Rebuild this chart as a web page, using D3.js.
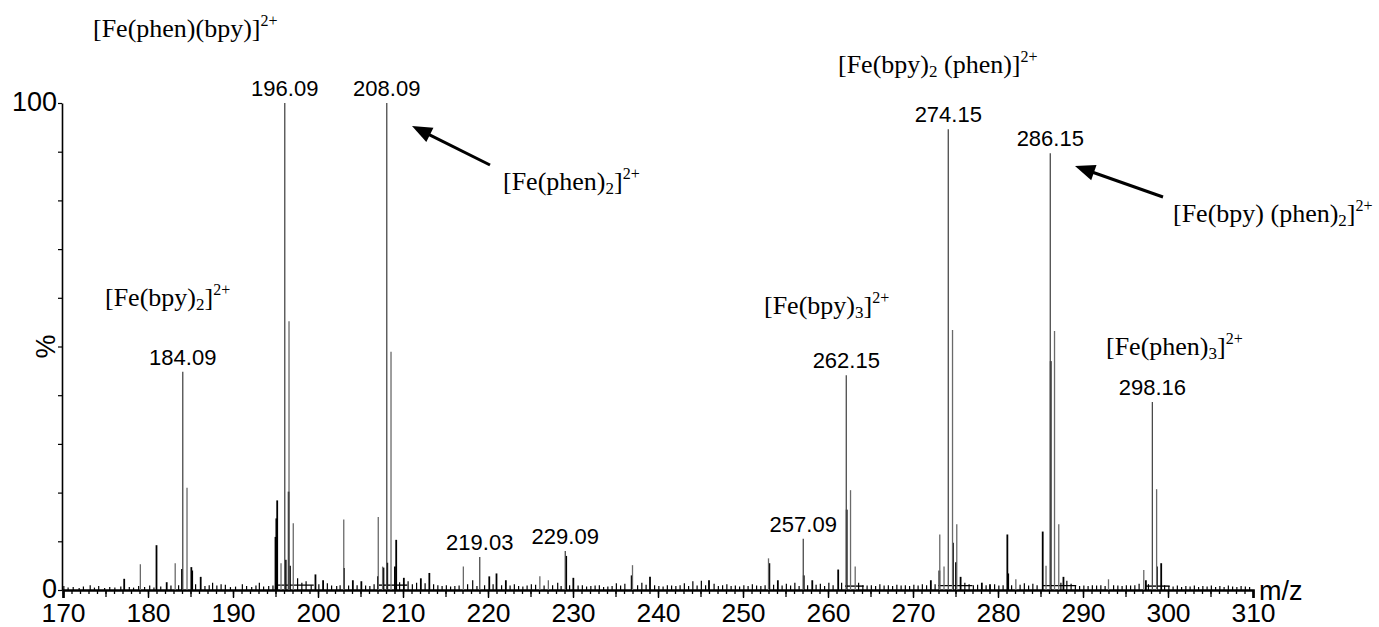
<!DOCTYPE html>
<html>
<head>
<meta charset="utf-8">
<script src="https://cdn.jsdelivr.net/npm/d3@7"></script>
<style>
  body { margin: 0; background: #fff; }
  svg { display: block; }
</style>
</head>
<body>
<svg id="chart" width="1379" height="627"></svg>
<script>
// ESI-MS spectrum of mixed-ligand Fe(II) complexes: m/z vs relative intensity (%)

// Annotated peaks [m/z, %]
const labeledPeaks = [
  [184.09, 44.8], [196.09, 100], [208.09, 100], [219.03, 6.8], [229.09, 8.0],
  [257.09, 10.5], [262.15, 44.1], [274.15, 94.6], [286.15, 89.7], [298.16, 38.6]
];

// Centroid sticks [m/z, %]
const centroidPeaks = [
  [179.1, 5.3], [183.2, 5.5], [184.59, 21.0], [195.65, 5.5], [196.59, 55.2],
  [197.09, 13.7], [203.03, 14.5], [207.09, 15.0], [207.6, 4.8], [208.59, 48.9],
  [217.1, 4.8], [226.1, 2.8], [227.1, 2.0], [237.0, 5.1], [253.0, 6.5],
  [262.65, 20.5], [263.2, 4.8], [273.15, 11.4], [273.65, 4.8], [274.65, 53.4],
  [275.15, 13.5], [282.1, 2.2], [285.65, 5.0], [286.65, 53.2], [287.15, 13.5],
  [293.0, 2.2], [297.15, 4.1], [298.66, 20.7]
];

// Profile trace maxima [m/z, %]
const profilePeaks = [
  [177.2, 2.3], [181.0, 9.2], [182.2, 1.6], [184.0, 4.3], [185.1, 4.7], [185.2, 4.0],
  [186.2, 2.7], [195.0, 10.9], [195.1, 14.7], [195.2, 18.4], [196.2, 6.2], [196.55, 20.2],
  [196.7, 5.0], [199.7, 3.2], [200.6, 2.0], [203.05, 4.5], [204.1, 2.0], [205.1, 1.8],
  [207.05, 2.8], [207.7, 4.6], [208.15, 5.6], [209.05, 4.8], [209.2, 10.3], [210.1, 2.5],
  [212.1, 2.4], [213.1, 3.5], [220.15, 2.8], [221.0, 3.4], [222.1, 2.0], [229.2, 7.0],
  [230.04, 2.5], [236.9, 3.0], [239.06, 2.7], [246.0, 2.0], [253.1, 5.5], [254.1, 2.0],
  [257.15, 3.0], [258.15, 2.0], [261.2, 4.2], [262.2, 16.5], [272.1, 2.0], [273.1, 4.0],
  [274.7, 9.7], [275.06, 5.7], [275.6, 2.7], [278.1, 1.5], [279.06, 1.2], [281.1, 11.4],
  [281.2, 3.4], [285.26, 12.0], [286.2, 47.0], [287.7, 2.7], [297.4, 2.0], [298.7, 4.8],
  [299.2, 5.5]
];

// Low-level background signal [m/z, %]
const noisePeaks = [
  [170.1, 0.8], [170.6, 0.5], [171.2, 0.6], [171.9, 0.4], [172.4, 0.7], [173.2, 1.0],
  [173.7, 0.5], [174.2, 0.8], [174.9, 0.4], [175.5, 0.6], [176.1, 0.5], [176.8, 0.7],
  [177.8, 0.6], [178.3, 0.5], [178.9, 0.8], [179.6, 0.6], [180.2, 0.9], [180.7, 0.5],
  [181.5, 0.7], [182.7, 0.9], [183.6, 1.0], [185.6, 1.2], [186.7, 0.8], [187.2, 1.0],
  [187.6, 1.5], [188.1, 0.9], [188.6, 1.2], [189.1, 1.1], [189.7, 0.6], [190.3, 0.7],
  [191.1, 1.2], [191.6, 0.8], [192.2, 0.6], [192.7, 0.9], [193.1, 1.5], [193.6, 0.7],
  [194.2, 0.8], [194.7, 0.9], [197.6, 2.4], [198.1, 1.5], [198.6, 1.8], [199.2, 1.0],
  [200.1, 1.2], [201.1, 1.4], [201.6, 0.9], [202.2, 0.8], [202.6, 1.0], [203.6, 0.9],
  [204.6, 1.0], [205.6, 0.9], [206.1, 0.8], [206.6, 1.2], [209.6, 1.6], [210.6, 1.8],
  [211.1, 1.2], [211.6, 1.5], [212.6, 1.4], [213.6, 1.2], [214.1, 1.0], [214.6, 0.8],
  [215.1, 1.0], [215.6, 0.7], [216.1, 0.8], [216.6, 0.9], [217.6, 1.2], [218.2, 2.0],
  [218.7, 0.8], [219.6, 1.0], [220.6, 1.2], [221.6, 1.0], [222.6, 0.9], [223.1, 1.2],
  [223.6, 0.8], [224.1, 0.7], [224.6, 0.9], [225.1, 1.2], [225.6, 1.1], [226.6, 0.9],
  [227.6, 1.0], [228.2, 1.5], [228.6, 0.8], [229.6, 1.0], [230.6, 0.9], [231.1, 1.0],
  [231.6, 0.7], [232.1, 0.8], [232.6, 0.9], [233.1, 1.0], [233.6, 0.6], [234.1, 0.7],
  [234.6, 0.8], [235.1, 1.4], [235.6, 0.9], [236.1, 1.3], [237.6, 1.0], [238.1, 1.5],
  [238.6, 1.1], [239.6, 1.0], [240.1, 0.8], [240.6, 0.7], [241.1, 1.0], [241.6, 0.9],
  [242.1, 0.8], [242.6, 1.0], [243.1, 1.4], [243.6, 0.8], [244.1, 1.8], [244.6, 0.9],
  [245.1, 1.9], [245.6, 1.0], [246.6, 1.3], [247.1, 0.8], [247.6, 1.0], [248.1, 1.2],
  [248.6, 0.8], [249.1, 0.9], [249.6, 0.7], [250.1, 1.0], [250.6, 0.8], [251.1, 1.2],
  [251.6, 0.9], [252.1, 0.8], [252.6, 1.0], [253.6, 1.1], [254.6, 0.9], [255.1, 1.3],
  [255.6, 0.9], [256.1, 1.5], [256.6, 0.8], [257.6, 1.0], [258.6, 1.1], [259.1, 1.3],
  [259.6, 0.8], [260.1, 1.5], [260.6, 1.0], [261.6, 1.5], [263.6, 1.5], [264.1, 1.0],
  [264.6, 0.9], [265.1, 1.0], [265.6, 0.8], [266.1, 1.2], [266.6, 0.9], [267.1, 1.0],
  [267.6, 0.8], [268.1, 1.1], [268.6, 0.9], [269.1, 1.0], [269.6, 0.8], [270.1, 1.1],
  [270.6, 0.9], [271.1, 1.2], [271.6, 1.0], [272.6, 1.2], [276.1, 1.5], [276.6, 1.2],
  [277.1, 1.0], [277.6, 1.1], [278.6, 1.0], [279.6, 1.2], [280.1, 0.9], [280.6, 1.0],
  [281.6, 1.0], [282.6, 1.1], [283.1, 1.4], [283.6, 0.9], [284.1, 1.3], [284.6, 1.0],
  [287.4, 1.5], [288.1, 1.9], [288.6, 1.3], [289.1, 1.0], [289.6, 0.8], [290.1, 0.9],
  [290.6, 0.8], [291.1, 1.0], [291.6, 0.9], [292.1, 1.0], [292.6, 0.8], [293.6, 1.0],
  [294.1, 0.9], [294.6, 0.8], [295.1, 1.0], [295.6, 0.9], [296.1, 1.0], [296.6, 1.3],
  [297.7, 1.2], [299.6, 1.0], [300.1, 0.8], [300.6, 0.7], [301.1, 0.9], [301.6, 0.6],
  [302.1, 0.8], [302.6, 0.7], [303.1, 0.9], [303.6, 0.6], [304.1, 0.8], [304.6, 0.7],
  [305.1, 0.9], [305.6, 0.6], [306.1, 0.8], [306.6, 0.6], [307.1, 0.9], [307.6, 0.7],
  [308.1, 0.6], [308.6, 0.8], [309.1, 0.7], [309.6, 0.6]
];

// Raised profile shoulders under isotope clusters [from m/z, to m/z, %]
const shoulders = [
  [195.0, 199.5, 1.0], [207.0, 210.5, 1.0], [262.0, 264.2, 0.8],
  [273.0, 277.0, 0.9], [285.3, 289.2, 0.9], [297.3, 300.2, 0.8]
];

// Species names (_{} subscript, ^{} superscript)
const speciesNames = [
  "[Fe(phen)(bpy)]^{2+}",
  "[Fe(bpy)_{2}]^{2+}",
  "[Fe(phen)_{2}]^{2+}",
  "[Fe(bpy)_{2} (phen)]^{2+}",
  "[Fe(bpy)_{3}]^{2+}",
  "[Fe(bpy) (phen)_{2}]^{2+}",
  "[Fe(phen)_{3}]^{2+}"
];

const xDomain = [170, 310];
const yDomain = [0, 100];
const xMajorTicks = d3.range(170, 311, 10);
const xMidTicks = d3.range(170, 311, 5);
const xMinorTicks = d3.range(170, 311, 1);
const yTicks = d3.range(0, 101, 10);
const yTickLabels = { 0: "0", 100: "100" };

const svg = d3.select("#chart");
const sans = "'Liberation Sans', Arimo, Arial, sans-serif";
const serif = "'Liberation Serif', 'Times New Roman', serif";

const x = d3.scaleLinear().domain(xDomain).range([63, 1253]);
const y = d3.scaleLinear().domain(yDomain).range([590, 103]);

// --- x axis: minor, mid and major ticks ---
const gx = svg.append("g").attr("transform", `translate(0,${y(0)})`);
gx.append("g").call(d3.axisBottom(x).tickValues(xMinorTicks).tickSize(4).tickFormat(""))
  .call(g => g.select(".domain").remove());
gx.append("g").call(d3.axisBottom(x).tickValues(xMidTicks).tickSize(7).tickFormat(""))
  .call(g => g.select(".domain").remove());
gx.append("g").call(d3.axisBottom(x).tickValues(xMajorTicks).tickSize(8).tickPadding(5).tickFormat(d3.format("d")))
  .call(g => g.select(".domain").attr("stroke-width", 2.6))
  .call(g => g.selectAll("text").attr("font-size", 26.5).attr("font-family", sans).attr("fill", "#000"));
gx.selectAll(".tick line").attr("stroke", "#000").attr("stroke-width", 1.3);
gx.selectAll(".domain").attr("stroke", "#000");

// --- y axis ---
const gy = svg.append("g").attr("transform", `translate(62,0)`)
  .call(d3.axisLeft(y).tickValues(yTicks).tickSize(4).tickSizeOuter(0).tickPadding(1)
    .tickFormat(d => yTickLabels[d] || ""));
gy.select(".domain").attr("stroke", "#000").attr("stroke-width", 1.6);
gy.selectAll(".tick line").attr("stroke", "#000").attr("stroke-width", 1.2);
gy.selectAll("text").attr("font-size", 27).attr("font-family", sans).attr("fill", "#000")
  .attr("dy", "0.28em");

svg.append("text")
  .attr("transform", `translate(55,${y(50)}) rotate(-90)`)
  .attr("text-anchor", "middle")
  .attr("font-family", sans).attr("font-size", 27)
  .text("%");

svg.append("text")
  .attr("x", 1259).attr("y", 600)
  .attr("font-family", sans).attr("font-size", 27)
  .text("m/z");

// --- spectrum ---
const plot = svg.append("g");

plot.selectAll("line.shoulder").data(shoulders).join("line")
  .attr("class", "shoulder")
  .attr("x1", d => x(d[0])).attr("x2", d => x(d[1]))
  .attr("y1", d => y(d[2])).attr("y2", d => y(d[2]))
  .attr("stroke", "#000").attr("stroke-width", 1.4);

function sticks(cls, data, color, width) {
  plot.selectAll("line." + cls).data(data).join("line")
    .attr("class", cls)
    .attr("x1", d => x(d[0])).attr("x2", d => x(d[0]))
    .attr("y1", y(0)).attr("y2", d => y(d[1]))
    .attr("stroke", color).attr("stroke-width", width);
}
sticks("noise", noisePeaks, "#000", 1.2);
sticks("profile", profilePeaks, "#000", 1.8);
sticks("centroid", centroidPeaks, "#6a6a6a", 1.3);
sticks("labeled", labeledPeaks, "#4a4a4a", 1.3);

// m/z labels over annotated peaks
plot.selectAll("text.mz").data(labeledPeaks).join("text")
  .attr("class", "mz")
  .attr("x", d => x(d[0]))
  .attr("y", d => y(d[1]) - 7)
  .attr("text-anchor", "middle")
  .attr("font-family", sans).attr("font-size", 22)
  .text(d => d[0].toFixed(2));

// --- species annotations ---
const namePositions = [
  [93, 37], [105, 306], [503, 190], [838, 73], [764, 314], [1173, 222], [1106, 355]
];

function richText(sel, str) {
  const re = /(_\{[^}]*\}|\^\{[^}]*\})/;
  const parts = str.split(re).filter(s => s.length);
  let shift = 0;
  parts.forEach(p => {
    let txt = p, size = 26, target = 0;
    if (p.startsWith("_{")) { txt = p.slice(2, -1); size = 17; target = 4; }
    else if (p.startsWith("^{")) { txt = p.slice(2, -1); size = 16; target = -11; }
    sel.append("tspan")
      .attr("dy", target - shift)
      .attr("font-size", size)
      .text(txt);
    shift = target;
  });
}

speciesNames.forEach((name, i) => {
  const t = svg.append("text")
    .attr("x", namePositions[i][0]).attr("y", namePositions[i][1])
    .attr("font-family", serif).attr("fill", "#000")
    .style("white-space", "pre");
  richText(t, name);
});

// --- arrows pointing at the bis-phen species ---
const arrows = [
  [[490, 165], [412, 126]],
  [[1163, 197], [1075, 166]]
];
arrows.forEach(([tail, tip]) => {
  const dx = tip[0] - tail[0], dy = tip[1] - tail[1];
  const len = Math.hypot(dx, dy), ux = dx / len, uy = dy / len;
  const headLen = 20, headHalf = 8;
  const bx = tip[0] - ux * headLen, by = tip[1] - uy * headLen;
  svg.append("line")
    .attr("x1", tail[0]).attr("y1", tail[1]).attr("x2", bx + ux * 2).attr("y2", by + uy * 2)
    .attr("stroke", "#000").attr("stroke-width", 3);
  svg.append("path")
    .attr("d", d3.line()([
      tip,
      [bx - uy * headHalf, by + ux * headHalf],
      [bx + uy * headHalf, by - ux * headHalf]
    ]) + "Z")
    .attr("fill", "#000");
});
</script>
</body>
</html>
